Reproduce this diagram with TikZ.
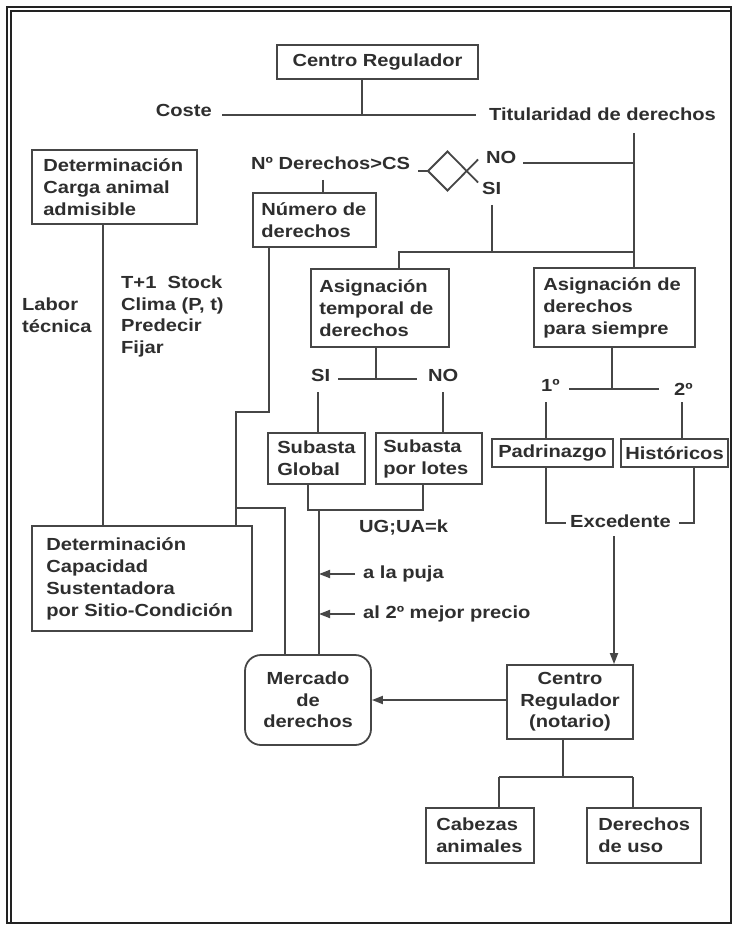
\documentclass[tikz,border=0pt]{standalone}
\usepackage{fontspec}
\setmainfont{Liberation Sans}[FakeStretch=1.15]
\usetikzlibrary{arrows.meta}
\definecolor{lc}{HTML}{464646}
\definecolor{tc}{HTML}{2E2E2E}
\definecolor{fc}{HTML}{222222}
\begin{document}
\begin{tikzpicture}[x=1pt,y=-1pt,
  every node/.style={font=\fontsize{17.5}{22}\selectfont\bfseries, text=tc},
  bx/.style={draw=lc, line width=1.8pt, inner sep=0pt},
  ln/.style={draw=lc, line width=1.8pt},
  arrowline/.style={ln, -{Triangle[length=11pt,width=8pt]}},
  lbl/.style={inner sep=0pt, align=left},
]
\useasboundingbox (0,0) rectangle (732,925);
\fill[white] (0,0) rectangle (732,925);
% frame
\draw[fc, line width=2pt] (7,7) rectangle (731,923);
\draw[fc, line width=1.4pt] (11,923) -- (11,11) -- (731,11);

% top
\node[bx, minimum width=201, minimum height=34] (cr1) at (377.5,62) {Centro Regulador};
\node[lbl, anchor=base east] (coste) at (212,116.5) {Coste};
\node[lbl, anchor=base west] (titul) at (489,121) {Titularidad de derechos};
\coordinate (j1) at (362,115);
\coordinate (hl) at (222,115);
\coordinate (hr) at (476,115);
\draw[ln] (j1 |- cr1.south) -- (j1);
\draw[ln] (hl) -- (hr);

% right branch
\node[bx, minimum width=161, minimum height=79] (asig2) at (614.5,307.5) {};
\node[lbl, anchor=west] (asig2t) at ([xshift=10]asig2.west) {Asignación de\\derechos\\para siempre};
\coordinate (t1) at (634,133);
\draw[ln] (t1) -- (t1 |- asig2.north);
\coordinate (noE) at (523,163);
\draw[ln] (noE) -- (noE -| t1);

% decision
\node[lbl, anchor=base west] (ncs) at (251,170) {Nº Derechos>CS};
\coordinate (dlin) at (418,171);
\coordinate (dl) at (428,171);
\coordinate (dt) at (447.5,151.5);
\coordinate (db) at (447.5,190.5);
\coordinate (de1) at (478,159.5);
\coordinate (de2) at (478,182.5);
\draw[ln] (dlin) -- (dl);
\draw[ln, line join=miter] (de2) -- (dt) -- (dl) -- (db) -- (de1);
\node[lbl, anchor=base west] (no1) at (486,163.5) {NO};
\node[lbl, anchor=base west] (si1) at (482,195) {SI};

\coordinate (s1) at (492,205);
\coordinate (hA) at (399,252);
\node[bx, minimum width=138, minimum height=78] (asig1) at (380,308) {};
\node[lbl, anchor=west] (asig1t) at ([xshift=9]asig1.west) {Asignación\\temporal de\\derechos};
\draw[ln] (s1) -- (s1 |- hA);
\draw[ln] (hA -| t1) -- (hA) -- (hA |- asig1.north);

% numero de derechos
\node[bx, minimum width=123, minimum height=54] (numder) at (314.5,220) {};
\node[lbl, anchor=west] (numdert) at ([xshift=9]numder.west) {Número de\\derechos};
\coordinate (n1) at (323,180);
\draw[ln] (n1) -- (n1 |- numder.north);

% left column
\node[bx, minimum width=165, minimum height=74] (carga) at (114.5,187) {};
\node[lbl, anchor=west] (cargat) at ([xshift=12]carga.west) {Determinación\\Carga animal\\admisible};
\node[bx, minimum width=220, minimum height=105] (capac) at (142,578.5) {};
\node[lbl, anchor=west] (capact) at ([xshift=15]capac.west) {Determinación\\Capacidad\\Sustentadora\\por Sitio-Condición};
\coordinate (c1) at (103,224);
\draw[ln] (carga.south -| c1) -- (capac.north -| c1);
\node[lbl, anchor=base west] (labor) at (22,332) {Labor\\técnica};
\node[lbl, anchor=base west, font=\fontsize{17.5}{21.5}\selectfont\bfseries] (tstock) at (121,353) {T+1~~Stock\\Clima (P, t)\\Predecir\\Fijar};

% mercado
\node[bx, rounded corners=16pt, minimum width=126, minimum height=90, align=center, font=\fontsize{17.5}{21.5}\selectfont\bfseries] (merc) at (308,700) {Mercado\\de\\derechos};
\coordinate (p1) at (269,412);
\coordinate (p2) at (236,412);
\coordinate (p3) at (236,508);
\coordinate (p4) at (285,508);
\draw[ln] (p1 |- numder.south) -- (p1) -- (p2) -- (p2 |- capac.north);
\draw[ln] (p3) -- (p4) -- (p4 |- merc.north);

% temporal branch
\coordinate (ta) at (376,379);
\coordinate (tl) at (338,379);
\coordinate (tr) at (417,379);
\draw[ln] (asig1.south -| ta) -- (ta);
\draw[ln] (tl) -- (tr);
\node[lbl, anchor=base west] (si2) at (311,381.5) {SI};
\node[lbl, anchor=base west] (no2) at (428,381.5) {NO};
\node[bx, minimum width=97, minimum height=51] (sglob) at (316.5,458.5) {};
\node[lbl, anchor=west] (sglobt) at ([xshift=10]sglob.west) {Subasta\\Global};
\node[bx, minimum width=106, minimum height=51] (slot) at (429,458.5) {};
\node[lbl, anchor=west] (slott) at ([xshift=8]slot.west) {Subasta\\por lotes};
\coordinate (v1) at (318,392);
\coordinate (v2) at (443,392);
\draw[ln] (v1) -- (v1 |- sglob.north);
\draw[ln] (v2) -- (v2 |- slot.north);
\coordinate (g1) at (308,510);
\coordinate (g2) at (423,510);
\coordinate (g3) at (319,510);
\draw[ln] (sglob.south -| g1) -- (g1) -- (g2) -- (slot.south -| g2);
\draw[ln] (g3) -- (g3 |- merc.north);
\node[lbl, anchor=base west] (ug) at (359,532.5) {UG;UA=k};
\coordinate (ar1) at (355,574);
\coordinate (ar2) at (355,614);
\draw[arrowline] (ar1) -- (ar1 -| g3);
\draw[arrowline] (ar2) -- (ar2 -| g3);
\node[lbl, anchor=base west] (puja) at (363,578.5) {a la puja};
\node[lbl, anchor=base west] (precio) at (363,618) {al 2º mejor precio};

% permanent branch
\coordinate (k1) at (612,389);
\coordinate (kl) at (569,389);
\coordinate (kr) at (659,389);
\draw[ln] (asig2.south -| k1) -- (k1);
\draw[ln] (kl) -- (kr);
\node[lbl, anchor=base west] (o1) at (541,391.5) {1º};
\node[lbl, anchor=base west] (o2) at (674,395) {2º};
\node[bx, minimum width=121, minimum height=28] (padr) at (552.5,453) {Padrinazgo};
\node[bx, minimum width=107, minimum height=28] (hist) at (674.5,453) {Históricos};
\coordinate (w1) at (546,402);
\coordinate (w2) at (682,402);
\draw[ln] (w1) -- (w1 |- padr.north);
\draw[ln] (w2) -- (w2 |- hist.north);
\coordinate (b1) at (546,523);
\coordinate (b2) at (566,523);
\coordinate (b3) at (694,523);
\coordinate (b4) at (679,523);
\draw[ln] (padr.south -| b1) -- (b1) -- (b2);
\draw[ln] (hist.south -| b3) -- (b3) -- (b4);
\node[lbl, anchor=base west] (exc) at (570,527) {Excedente};

% centro regulador notario
\node[bx, minimum width=126, minimum height=74, align=center, font=\fontsize{17.5}{21.5}\selectfont\bfseries] (crn) at (570,702) {Centro\\Regulador\\(notario)};
\coordinate (e1) at (614,536);
\draw[arrowline] (e1) -- (e1 |- crn.north);
\draw[arrowline] (crn.west |- merc.east) -- (merc.east);

% bottom
\node[bx, minimum width=108, minimum height=55] (cab) at (480,835.5) {};
\node[lbl, anchor=west] (cabt) at ([xshift=11]cab.west) {Cabezas\\animales};
\node[bx, minimum width=114, minimum height=55] (der) at (644,835.5) {};
\node[lbl, anchor=west] (dert) at ([xshift=12]der.west) {Derechos\\de uso};
\coordinate (m1) at (563,777);
\coordinate (ml) at (499,777);
\coordinate (mr) at (633,777);
\draw[ln] (crn.south -| m1) -- (m1);
\draw[ln] (ml) -- (mr);
\draw[ln] (ml) -- (ml |- cab.north);
\draw[ln] (mr) -- (mr |- der.north);
\end{tikzpicture}
\end{document}
